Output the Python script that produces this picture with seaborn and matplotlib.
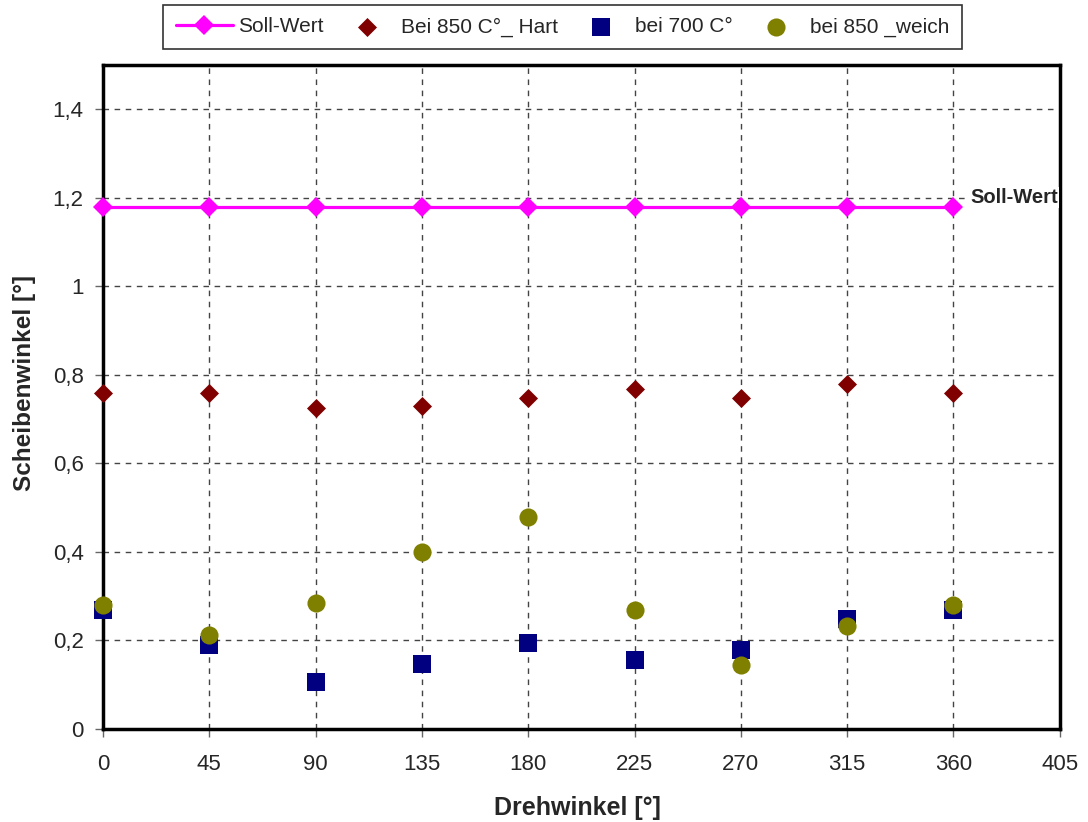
import numpy as np
import pandas as pd
import matplotlib
matplotlib.use('Agg')
import matplotlib.pyplot as plt
from matplotlib.ticker import FuncFormatter, MultipleLocator
import seaborn as sns

# Data
drehwinkel = [0, 45, 90, 135, 180, 225, 270, 315, 360]
soll_wert = [1.18, 1.18, 1.18, 1.18, 1.18, 1.18, 1.18, 1.18, 1.18]
hart_850 = [0.76, 0.76, 0.726, 0.73, 0.748, 0.769, 0.748, 0.78, 0.76]
bei_700 = [0.268, 0.19, 0.106, 0.147, 0.194, 0.155, 0.178, 0.248, 0.268]
weich_850 = [0.28, 0.212, 0.284, 0.399, 0.48, 0.268, 0.144, 0.232, 0.28]

df = pd.DataFrame({'Drehwinkel': drehwinkel, 'Soll': soll_wert,
                   'Hart': hart_850, 'C700': bei_700, 'Weich': weich_850})

sns.set_style('white')
plt.rcParams['font.family'] = ['Liberation Sans', 'DejaVu Sans']

fig = plt.figure(figsize=(10.88, 8.22), dpi=100)
ax = fig.add_axes([0.0947, 0.1131, 0.8793, 0.8079])

sns.lineplot(data=df, x='Drehwinkel', y='Soll', ax=ax, color='#FF00FF',
             linewidth=2.3, marker='D', markersize=9.7, markeredgewidth=0,
             label='Soll-Wert', zorder=3, clip_on=False)
sns.scatterplot(data=df, x='Drehwinkel', y='Hart', ax=ax, color='#800000',
                marker='D', s=94, linewidth=0, label='Bei 850 C°_ Hart',
                zorder=3, clip_on=False)
sns.scatterplot(data=df, x='Drehwinkel', y='C700', ax=ax, color='#000080',
                marker='s', s=150, linewidth=0, label='bei 700 C°',
                zorder=3, clip_on=False)
sns.scatterplot(data=df, x='Drehwinkel', y='Weich', ax=ax, color='#808000',
                marker='o', s=170, linewidth=0, label='bei 850 _weich',
                zorder=4, clip_on=False)

ax.annotate('Soll-Wert', xy=(drehwinkel[-1], soll_wert[-1]), xytext=(12, 6.5),
            textcoords='offset points', fontsize=14.5, fontweight='bold',
            va='center', zorder=5,
            bbox=dict(boxstyle='square,pad=0.05', facecolor='white', edgecolor='none'))

ax.set_xlim(0, 405)
ax.set_ylim(0, 1.5)
ax.xaxis.set_major_locator(MultipleLocator(45))
ax.yaxis.set_major_locator(MultipleLocator(0.2))
ax.yaxis.set_major_formatter(FuncFormatter(lambda v, p: f'{v:.1f}'.rstrip('0').rstrip('.').replace('.', ',')
                                           if v != 0 else '0'))
ax.grid(True, color='#444444', linestyle=(0, (4, 4)), linewidth=1)
ax.tick_params(axis='both', labelsize=16, length=6, width=1, color='#666666',
               direction='out')
ax.tick_params(axis='x', pad=12)
ax.tick_params(axis='y', pad=8)
ax.tick_params(left=True, bottom=True)
for side in ['left', 'bottom', 'top', 'right']:
    ax.spines[side].set_visible(True)
    ax.spines[side].set_color('black')
    ax.spines[side].set_linewidth(2.5)

ax.set_xlabel('Drehwinkel [°]', fontsize=18, fontweight='bold')
ax.set_ylabel('Scheibenwinkel [°]', fontsize=17.5, fontweight='bold')
ax.xaxis.set_label_coords(0.496, -0.101)
ax.yaxis.set_label_coords(-0.07, 0.521)

handles, labels = ax.get_legend_handles_labels()
ax.get_legend().remove()
leg = fig.legend(handles, labels, loc='upper center', bbox_to_anchor=(0.517, 0.994),
                 ncol=4, fontsize=15, frameon=True, fancybox=False,
                 edgecolor='black', handlelength=2.75, columnspacing=0.7,
                 handletextpad=0.25, borderpad=0.6, borderaxespad=0)
leg.get_frame().set_linewidth(1.2)

plt.savefig('out.png', dpi=100)
